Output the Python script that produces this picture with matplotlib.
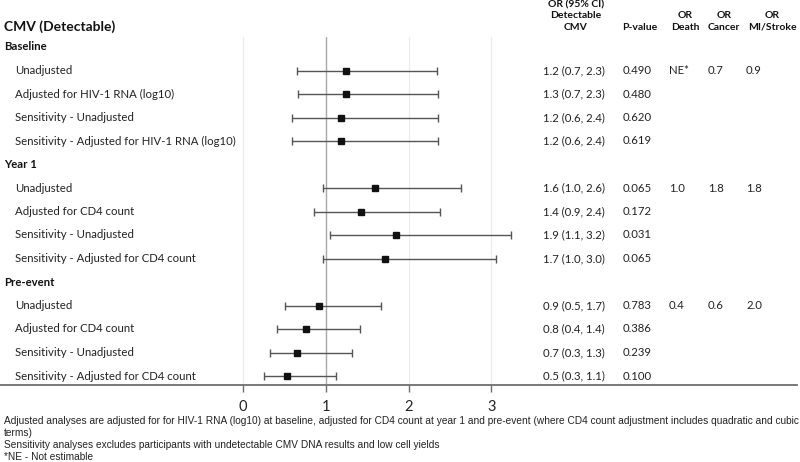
import matplotlib
matplotlib.use("Agg")
import matplotlib.pyplot as plt
import matplotlib.transforms as mtransforms

plt.rcParams['font.family'] = ['Lato', 'DejaVu Sans']

# ---------------- data ----------------
groups = ["Baseline", "Year 1", "Pre-event"]
labels = [
    ["Unadjusted", "Adjusted for HIV-1 RNA (log10)", "Sensitivity - Unadjusted",
     "Sensitivity - Adjusted for HIV-1 RNA (log10)"],
    ["Unadjusted", "Adjusted for CD4 count", "Sensitivity - Unadjusted",
     "Sensitivity - Adjusted for CD4 count"],
    ["Unadjusted", "Adjusted for CD4 count", "Sensitivity - Unadjusted",
     "Sensitivity - Adjusted for CD4 count"],
]
or_est = [[1.25, 1.25, 1.19, 1.19], [1.60, 1.43, 1.85, 1.72], [0.92, 0.76, 0.66, 0.54]]
ci_lo = [[0.66, 0.67, 0.60, 0.60], [0.97, 0.86, 1.05, 0.97], [0.51, 0.41, 0.33, 0.26]]
ci_hi = [[2.34, 2.35, 2.36, 2.36], [2.63, 2.38, 3.24, 3.05], [1.67, 1.42, 1.32, 1.13]]
or_text = [["1.2 (0.7, 2.3)", "1.3 (0.7, 2.3)", "1.2 (0.6, 2.4)", "1.2 (0.6, 2.4)"],
           ["1.6 (1.0, 2.6)", "1.4 (0.9, 2.4)", "1.9 (1.1, 3.2)", "1.7 (1.0, 3.0)"],
           ["0.9 (0.5, 1.7)", "0.8 (0.4, 1.4)", "0.7 (0.3, 1.3)", "0.5 (0.3, 1.1)"]]
p_text = [["0.490", "0.480", "0.620", "0.619"],
          ["0.065", "0.172", "0.031", "0.065"],
          ["0.783", "0.386", "0.239", "0.100"]]
or_death = ["NE*", "1.0", "0.4"]
or_cancer = ["0.7", "1.8", "0.6"]
or_mi = ["0.9", "1.8", "2.0"]
xticks = [0, 1, 2, 3]
footnotes = [
    "Adjusted analyses are adjusted for for HIV-1 RNA (log10) at baseline, adjusted for CD4 count at year 1 and pre-event (where CD4 count adjustment includes quadratic and cubic",
    "terms)",
    "Sensitivity analyses excludes participants with undetectable CMV DNA results and low cell yields",
    "*NE - Not estimable",
]

W, H = 800, 462
fig = plt.figure(figsize=(W / 100, H / 100), dpi=100)

# axes spanning full width; x pixel mapping: 0 -> 242.7, 1 -> 325.6
px0, ppu = 242.7, 82.9
ax_left, ax_right = 0, 797
ax_top, ax_bot = 37, 385
ax = fig.add_axes([ax_left / W, 1 - ax_bot / H, (ax_right - ax_left) / W, (ax_bot - ax_top) / H])
ax.set_xlim((ax_left - px0) / ppu, (ax_right - px0) / ppu)
# y: row index k at pixel 47 + 23.5k
y0, dy = 47.0, 23.5
ax.set_ylim((ax_bot - y0) / dy, (ax_top - y0) / dy)

for s in ["top", "left", "right"]:
    ax.spines[s].set_visible(False)
ax.spines["bottom"].set_color("#6e6e6e")
ax.spines["bottom"].set_linewidth(1.3)
ax.set_yticks([])
ax.set_xticks(xticks)
ax.set_xticklabels([str(t) for t in xticks], fontsize=10.5, color="#222222")
ax.tick_params(axis="x", length=5, width=1, color="#6e6e6e", pad=6)

for t in xticks:
    if t == 1:
        ax.axvline(t, color="#a8a8a8", lw=1.0, zorder=1)
    else:
        ax.axvline(t, color="#ebebeb", lw=0.8, zorder=0)

blend = mtransforms.blended_transform_factory(fig.transFigure, ax.transData)
def fx(px):
    return px / W

lab_fs = 8.2
col_or, col_p, col_d, col_c, col_m = 543, 623, 669, 708, 746

fig.text(fx(4), 1 - 27 / H, "CMV (Detectable)", fontsize=10, fontweight="bold",
         va="center", ha="left", color="#111111")

k = 0
for g in range(3):
    ax.text(fx(4), k, groups[g], transform=blend, fontsize=lab_fs, fontweight="bold",
            va="center", ha="left", color="#111111")
    k += 1
    for r in range(4):
        ax.text(fx(15), k, labels[g][r], transform=blend, fontsize=lab_fs,
                va="center", ha="left", color="#222222")
        ax.errorbar(or_est[g][r], k,
                    xerr=[[or_est[g][r] - ci_lo[g][r]], [ci_hi[g][r] - or_est[g][r]]],
                    fmt="s", color="#111111", ecolor="#555555", elinewidth=1.0,
                    capsize=3.2, capthick=1.0, markersize=3.9, zorder=3)
        ax.text(fx(col_or), k, or_text[g][r], transform=blend, fontsize=lab_fs,
                va="center", ha="left", color="#222222")
        ax.text(fx(col_p), k, p_text[g][r], transform=blend, fontsize=lab_fs,
                va="center", ha="left", color="#222222")
        if r == 0:
            ax.text(fx(col_d), k, or_death[g], transform=blend, fontsize=lab_fs,
                    va="center", ha="left", color="#222222")
            ax.text(fx(col_c), k, or_cancer[g], transform=blend, fontsize=lab_fs,
                    va="center", ha="left", color="#222222")
            ax.text(fx(col_m), k, or_mi[g], transform=blend, fontsize=lab_fs,
                    va="center", ha="left", color="#222222")
        k += 1

hdr_fs = 7.5
def header(xc, lines, y_last=27, step=11):
    n = len(lines)
    for i, ln in enumerate(lines):
        y = y_last - (n - 1 - i) * step
        fig.text(fx(xc), 1 - y / H, ln, fontsize=hdr_fs, fontweight="bold",
                 ha="center", va="center", color="#111111")

header(576, ["OR (95% CI)", "Detectable", "CMV"])
header(640, ["P-value"])
header(685, ["OR", "Death"])
header(724, ["OR", "Cancer"])
header(772, ["OR", "MI/Stroke"])

foot_y = [421, 433, 445.5, 456.5]
foot_family = ["Liberation Sans Narrow", "Liberation Sans", "DejaVu Sans"]
foot_texts = []
for y, t in zip(foot_y, footnotes):
    foot_texts.append(fig.text(fx(4), 1 - y / H, t, fontsize=7.0, ha="left", va="center",
                               color="#222222", family=foot_family))

# scale footnote size so the first line spans ~4..794 px, as in the reference
renderer = fig.canvas.get_renderer()
w0 = foot_texts[0].get_window_extent(renderer).width
fs = 7.0 * 788.0 / w0
for t in foot_texts:
    t.set_fontsize(fs)

fig.savefig("out.png", dpi=100)
